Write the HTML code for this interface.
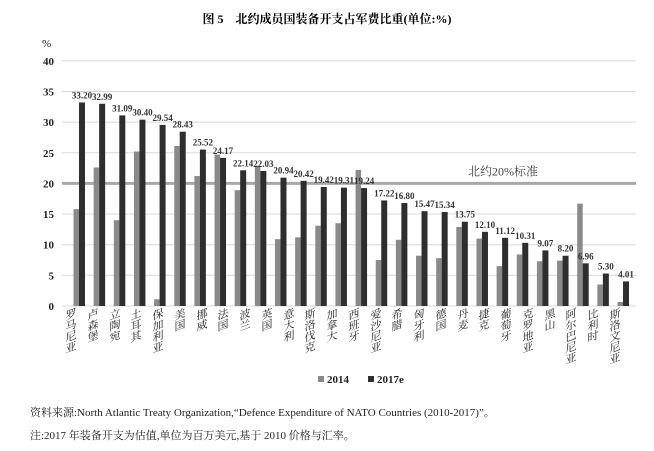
<!DOCTYPE html>
<html><head><meta charset="utf-8"><style>
body{margin:0;background:#fff;font-family:"Liberation Serif","Noto Serif CJK SC",serif;}
#wrap{position:relative;width:654px;height:451px;overflow:hidden;}
.lab{position:absolute;top:311px;writing-mode:vertical-rl;font-size:11px;line-height:11px;color:#222;transform:skewY(-20deg);transform-origin:top left;letter-spacing:0;}
</style></head><body>
<div id="wrap">
<div style="position:absolute;top:10px;left:0;width:654px;text-align:center;font-size:12px;font-weight:bold;font-family:'Liberation Serif','Noto Serif CJK SC',serif;">图 5　北约成员国装备开支占军费比重(单位:%)</div>
<svg id="chart" width="654" height="451" style="position:absolute;left:0;top:0"></svg>
<div id="labels"></div>
<div style="position:absolute;left:30px;top:404px;font-size:11px;color:#222;">资料来源:North Atlantic Treaty Organization,“Defence Expenditure of NATO Countries (2010-2017)”。</div>
<div style="position:absolute;left:30px;top:427px;font-size:11px;color:#222;">注:2017 年装备开支为估值,单位为百万美元,基于 2010 价格与汇率。</div>
</div>
<script>
const countries=["罗马尼亚","卢森堡","立陶宛","土耳其","保加利亚","美国","挪威","法国","波兰","英国","意大利","斯洛伐克","加拿大","西班牙","爱沙尼亚","希腊","匈牙利","德国","丹麦","捷克","葡萄牙","克罗地亚","黑山","阿尔巴尼亚","比利时","斯洛文尼亚"];
const v2014=[15.8,22.6,14.0,25.2,1.1,26.1,21.2,24.7,18.9,22.9,10.9,11.2,13.1,13.5,22.2,7.5,10.8,8.2,7.8,12.9,11.0,6.5,8.4,7.3,7.4,16.7,3.5,0.65];
const v2017=[33.20,32.99,31.09,30.40,29.54,28.43,25.52,24.17,22.14,22.03,20.94,20.42,19.42,19.31,19.24,17.22,16.80,15.47,15.34,13.75,12.10,11.12,10.31,9.07,8.20,6.96,5.30,4.01];
const yTicks=[0,5,10,15,20,25,30,35,40];
const standard=20;
const NS="http://www.w3.org/2000/svg";
const svg=document.getElementById('chart');
const y=v=>306-v*6.13;
const xc=i=>80+i*(544/(v2017.length-1));
function mk(t,a,p){const e=document.createElementNS(NS,t);for(const k in a)e.setAttribute(k,a[k]);(p||svg).appendChild(e);return e;}
yTicks.forEach(t=>{
 const l=mk('line',{x1:62,x2:636,y1:y(t),y2:y(t),stroke:'#d8d8d8','stroke-width':1});
 
 
 const tx=mk('text',{x:54,y:y(t)+4,'text-anchor':'end','font-size':11,'font-weight':'bold',fill:'#222','font-family':'Liberation Serif'});
 tx.textContent=t;
 
 
});
const pc=mk('text',{x:42,y:47,'font-size':11,fill:'#222','font-family':'Liberation Serif'});pc.textContent='%';


const ref=mk('line',{x1:62,x2:636,y1:y(standard),y2:y(standard),stroke:'#a8a8a8','stroke-width':3});


const rt=mk('text',{x:503,y:y(standard)-8,'text-anchor':'middle','font-size':12,fill:'#444','font-family':'Liberation Serif, Noto Serif CJK SC, serif'});
rt.textContent='北约20%标准';


v2017.forEach((v,i)=>{
 const c=xc(i);
 const g=mk('rect',{x:c-6.5,y:y(v2014[i]),width:5.5,height:306-y(v2014[i]),fill:'#8a8a8a'});
 
 
 const d=mk('rect',{x:c-1,y:y(v),width:6,height:306-y(v),fill:'#2e2e2e'});
 
 
 const t=mk('text',{x:c+2,y:y(v)-4,'text-anchor':'middle','font-size':9,'font-weight':'bold',fill:'#333','font-family':'Liberation Serif'});
 t.textContent=v.toFixed(2);
 
 
});
const lg=[[318,'#8a8a8a','2014'],[368,'#2e2e2e','2017e']];
lg.forEach(([x,c,s])=>{
 const r=mk('rect',{x:x,y:376,width:6,height:6,fill:c});
 
 
 const t=mk('text',{x:x+9,y:383,'font-size':11,'font-weight':'bold',fill:'#222','font-family':'Liberation Serif'});
 t.textContent=s;
 
 
});
const lab=document.getElementById('labels');
countries.forEach((n,i)=>{
 const d=document.createElement('div');
 d.className='lab';
 d.style.left=(64+i*21.75)+'px';
 d.textContent=n;
 
 
 lab.appendChild(d);
});
</script>
</body></html>
